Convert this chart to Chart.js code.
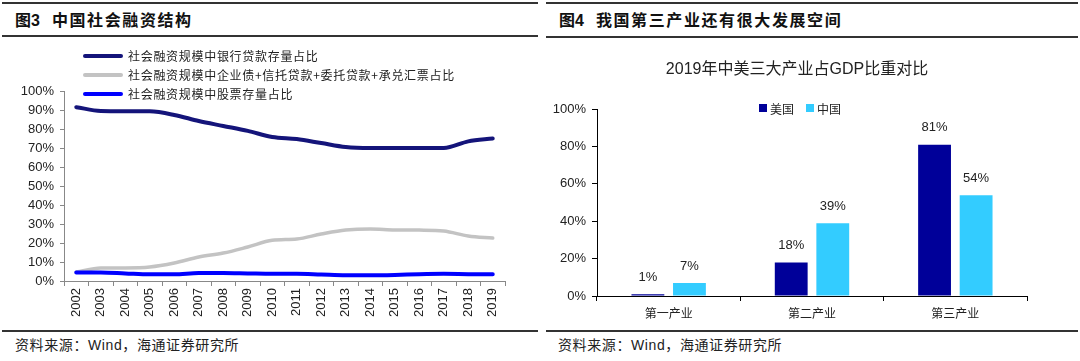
<!DOCTYPE html>
<html lang="zh-CN">
<head>
<meta charset="UTF-8">
<title>中国社会融资结构 / 我国第三产业还有很大发展空间</title>
<script src="https://cdn.jsdelivr.net/npm/chart.js"></script>
<style>
  body {
    margin: 0;
    width: 1080px;
    height: 361px;
    background: #fff;
    position: relative;
    overflow: hidden;
    font-family: "Liberation Sans", Arial, "Noto Sans CJK SC", sans-serif;
    color: #222;
  }
  .rule { position: absolute; height: 2px; background: #333; }
  .head { position: absolute; top: 11px; font-size: 16px; line-height: 20px; font-weight: bold; color: #111; white-space: pre; }
  .head .num { margin-right: 12px; }
  .head .txt { letter-spacing: 1.6px; }
  .foot { position: absolute; top: 335px; font-size: 14px; line-height: 20px; color: #222; white-space: pre; letter-spacing: 0.6px; }
  .box { position: absolute; top: 40px; }
  .legend { position: absolute; font-family: "Noto Sans CJK SC", sans-serif; color: #222; }
  .legend .row { display: flex; align-items: center; height: 19px; font-size: 12px; letter-spacing: 0.7px; }
  .legend .swatch { display: inline-block; width: 40px; height: 4px; border-radius: 2px; margin-right: 5px; }
  .legend2 { position: absolute; top: 100px; left: 759px; display: flex; font-family: "Noto Sans CJK SC", sans-serif; font-size: 12px; }
  .legend2 span.sq { display: inline-block; width: 8px; height: 8px; margin: 4px 3px 0 0; }
  .legend2 .item { display: flex; margin-right: 12px; }
</style>
</head>
<body>

<!-- left panel header / footer -->
<div class="rule" style="left:2px; width:536px; top:2px;"></div>
<div class="head" style="left:15px;"><span class="num">图3</span><span class="txt">中国社会融资结构</span></div>
<div class="rule" style="left:2px; width:536px; top:35px;"></div>
<div class="rule" style="left:2px; width:536px; top:330px;"></div>
<div class="foot" style="left:15px;">资料来源：Wind，海通证券研究所</div>

<!-- right panel header / footer -->
<div class="rule" style="left:546px; width:532px; top:2px;"></div>
<div class="head" style="left:559px;"><span class="num">图4</span><span class="txt">我国第三产业还有很大发展空间</span></div>
<div class="rule" style="left:546px; width:532px; top:36px;"></div>
<div class="rule" style="left:546px; width:532px; top:330px;"></div>
<div class="foot" style="left:558px;">资料来源：Wind，海通证券研究所</div>

<canvas id="lineChart" class="box" style="left:0;" width="540" height="288"></canvas>
<canvas id="barChart" class="box" style="left:540px;" width="540" height="288"></canvas>

<div id="legend1" class="legend" style="left:83px; top:46px;"></div>
<div id="legend2" class="legend2"></div>

<script>
// ---- 图3 data (share of total social financing, %) ----
var years = ['2002', '2003', '2004', '2005', '2006', '2007', '2008', '2009', '2010',
             '2011', '2012', '2013', '2014', '2015', '2016', '2017', '2018', '2019'];
var bankLoans = [91.5, 89.5, 89.4, 89.3, 87.4, 84.2, 81.6, 79.0, 75.8,
                 74.7, 72.6, 70.5, 70.0, 70.0, 70.0, 70.0, 73.5, 75.0];
var bondsTrust = [4.7, 6.8, 6.9, 7.4, 9.5, 12.6, 14.7, 17.9, 21.4,
                  22.1, 24.7, 26.8, 27.4, 26.9, 26.8, 26.3, 23.7, 22.6];
var stocks = [4.5, 4.5, 4.0, 3.5, 3.5, 4.2, 4.2, 4.0, 3.8,
              3.8, 3.4, 3.0, 3.0, 3.2, 3.6, 3.8, 3.6, 3.5];
var lineNames = ['社会融资规模中银行贷款存量占比',
                 '社会融资规模中企业债+信托贷款+委托贷款+承兑汇票占比',
                 '社会融资规模中股票存量占比'];
var lineColors = ['#14147a', '#c3c3c3', '#0000ff'];

// ---- 图4 data (2019 share of GDP, %) ----
var sectors = ['第一产业', '第二产业', '第三产业'];
var usShare = [1, 18, 81];
var cnShare = [7, 39, 54];
var barNames = ['美国', '中国'];
var barColors = ['#000099', '#33ccff'];

var axisFont = { family: '"Liberation Sans", Arial', size: 13 };

// html legends
var lg1 = document.getElementById('legend1');
lineNames.forEach(function (name, i) {
    var row = document.createElement('div');
    row.className = 'row';
    row.innerHTML = '<span class="swatch" style="background:' + lineColors[i] + '"></span>' + name;
    lg1.appendChild(row);
});
var lg2 = document.getElementById('legend2');
barNames.forEach(function (name, i) {
    var it = document.createElement('div');
    it.className = 'item';
    it.innerHTML = '<span class="sq" style="background:' + barColors[i] + '"></span>' + name;
    lg2.appendChild(it);
});

// line chart
new Chart(document.getElementById('lineChart'), {
    type: 'line',
    data: {
        labels: years,
        datasets: [
            { label: lineNames[0], data: bankLoans, borderColor: lineColors[0], borderWidth: 4, order: 0 },
            { label: lineNames[1], data: bondsTrust, borderColor: lineColors[1], borderWidth: 3.5, order: 2 },
            { label: lineNames[2], data: stocks, borderColor: lineColors[2], borderWidth: 4, order: 1 }
        ]
    },
    options: {
        responsive: false,
        animation: false,
        layout: { padding: { top: 51, right: 35, left: 0, bottom: 0 } },
        elements: { point: { radius: 0 }, line: { cubicInterpolationMode: 'monotone', borderCapStyle: 'round' } },
        plugins: { legend: { display: false }, tooltip: { enabled: false } },
        scales: {
            x: {
                offset: true,
                grid: { offset: true, drawOnChartArea: false, tickLength: 5, color: '#888' },
                border: { color: '#888' },
                ticks: { minRotation: 90, maxRotation: 90, font: axisFont, color: '#222', padding: 2 },
                afterFit: function (s) { s.height = 47; }
            },
            y: {
                min: 0, max: 100,
                grid: { drawOnChartArea: false, tickLength: 4, color: '#888' },
                border: { color: '#888' },
                ticks: { stepSize: 10, font: axisFont, color: '#222', padding: 6,
                         callback: function (v) { return v + '%'; } },
                afterFit: function (s) { s.width = 64; }
            }
        }
    }
});

// value labels above the bars
var valueLabels = {
    id: 'valueLabels',
    afterDatasetsDraw: function (chart) {
        var ctx = chart.ctx;
        ctx.save();
        ctx.font = '13px "Liberation Sans", Arial';
        ctx.fillStyle = '#222';
        ctx.textAlign = 'center';
        ctx.textBaseline = 'middle';
        chart.data.datasets.forEach(function (ds, i) {
            chart.getDatasetMeta(i).data.forEach(function (bar, j) {
                ctx.fillText(ds.data[j] + '%', bar.x, bar.y - 17);
            });
        });
        ctx.restore();
    }
};

// bar chart
new Chart(document.getElementById('barChart'), {
    type: 'bar',
    data: {
        labels: sectors,
        datasets: [
            { label: barNames[0], data: usShare, backgroundColor: barColors[0], categoryPercentage: 0.58, barPercentage: 0.79 },
            { label: barNames[1], data: cnShare, backgroundColor: barColors[1], categoryPercentage: 0.58, barPercentage: 0.79 }
        ]
    },
    options: {
        responsive: false,
        animation: false,
        layout: { padding: { top: 0, right: 26, left: 0, bottom: 0 } },
        plugins: {
            legend: { display: false },
            tooltip: { enabled: false },
            title: {
                display: true,
                text: '2019年中美三大产业占GDP比重对比',
                font: { family: '"Liberation Sans", Arial, "Noto Sans CJK SC"', size: 16, weight: 'normal' },
                color: '#222',
                padding: { top: 20, bottom: 30 }
            }
        },
        scales: {
            x: {
                grid: { offset: true, drawOnChartArea: false, tickLength: 5, color: '#000' },
                border: { color: '#000' },
                ticks: { font: { family: '"Noto Sans CJK SC"', size: 12 }, color: '#222', padding: 5 },
                afterFit: function (s) { s.height = 32; }
            },
            y: {
                min: 0, max: 100,
                grid: { drawOnChartArea: false, tickLength: 5, color: '#000' },
                border: { color: '#000' },
                ticks: { stepSize: 20, font: axisFont, color: '#222', padding: 6,
                         callback: function (v) { return v + '%'; } },
                afterFit: function (s) { s.width = 57; }
            },
            // empty right-hand spacer so the title centres like the original
            yPad: {
                type: 'linear',
                position: 'right',
                grid: { display: false },
                border: { display: false },
                ticks: { display: false },
                afterFit: function (s) { s.width = 27; }
            }
        }
    },
    plugins: [valueLabels]
});
</script>
</body>
</html>
